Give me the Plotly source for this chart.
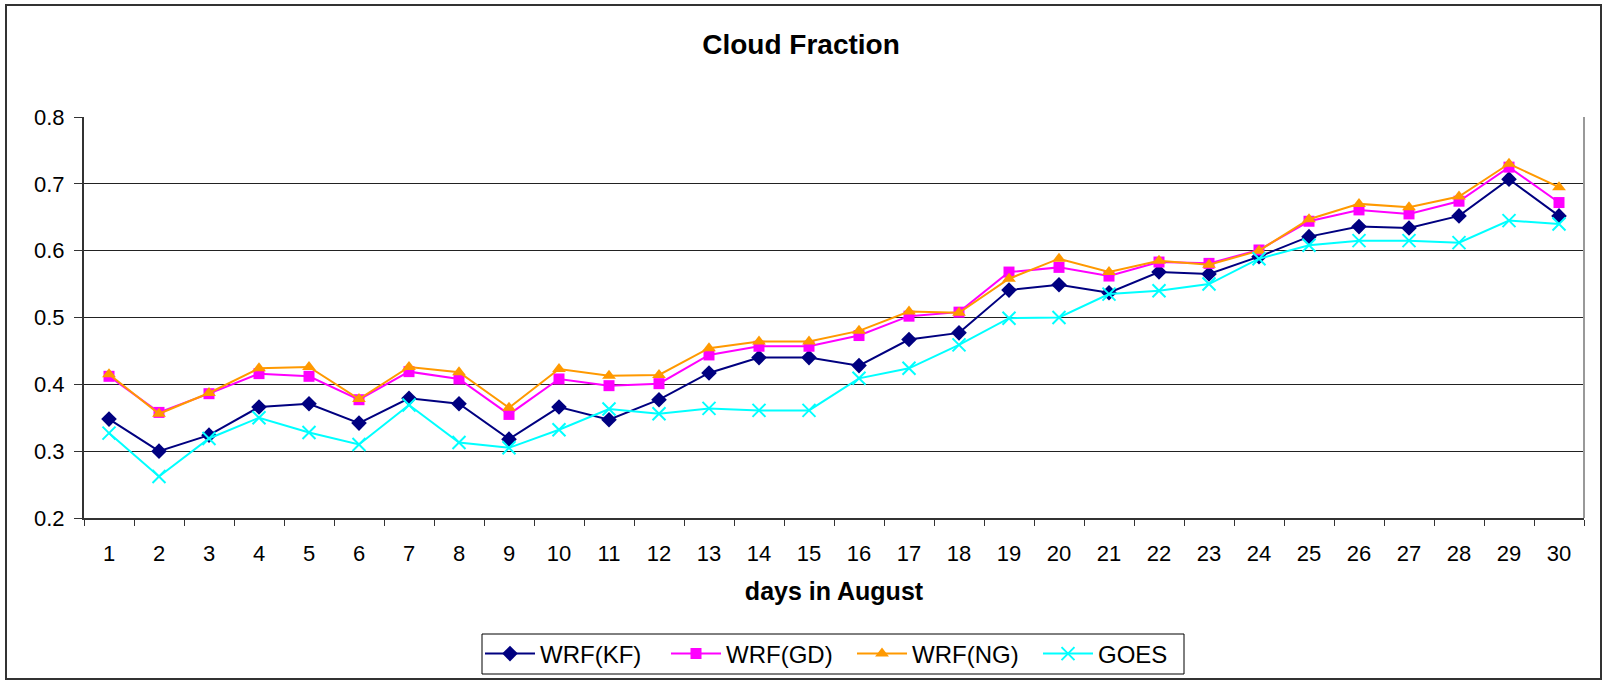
import plotly.graph_objects as go

# Daily mean cloud fraction, August
days = [str(d) for d in range(1, 31)]

wrf_kf = [0.348, 0.300, 0.324, 0.366, 0.371, 0.342, 0.379, 0.371, 0.318, 0.366,
          0.347, 0.377, 0.417, 0.440, 0.440, 0.428, 0.467, 0.477, 0.541, 0.549,
          0.537, 0.568, 0.565, 0.591, 0.621, 0.636, 0.634, 0.652, 0.707, 0.652]
wrf_gd = [0.412, 0.358, 0.386, 0.416, 0.412, 0.377, 0.419, 0.408, 0.355, 0.408,
          0.398, 0.401, 0.444, 0.457, 0.457, 0.473, 0.502, 0.508, 0.568, 0.575,
          0.562, 0.583, 0.581, 0.601, 0.644, 0.661, 0.655, 0.674, 0.725, 0.672]
wrf_ng = [0.415, 0.356, 0.387, 0.424, 0.426, 0.378, 0.426, 0.418, 0.365, 0.423,
          0.413, 0.414, 0.454, 0.464, 0.464, 0.480, 0.509, 0.507, 0.558, 0.588,
          0.568, 0.585, 0.579, 0.600, 0.647, 0.670, 0.665, 0.681, 0.730, 0.695]
goes = [0.327, 0.262, 0.319, 0.350, 0.328, 0.310, 0.369, 0.313, 0.305, 0.332,
        0.363, 0.356, 0.364, 0.361, 0.361, 0.409, 0.424, 0.459, 0.499, 0.500,
        0.535, 0.540, 0.550, 0.588, 0.608, 0.615, 0.615, 0.612, 0.645, 0.640]

series = [
    ("WRF(KF)", wrf_kf, "#000080", dict(symbol="diamond", size=12)),
    ("WRF(GD)", wrf_gd, "#FF00FF", dict(symbol="square", size=11)),
    ("WRF(NG)", wrf_ng, "#FF9900", dict(symbol="triangle-up", size=12)),
    ("GOES", goes, "#00FFFF", dict(symbol="x-thin-open", size=13,
                                   line=dict(width=2, color="#00FFFF"))),
]

FONT = "Arial, 'Liberation Sans', sans-serif"
W, H = 1602, 681
L, R, T, B = 84, 18, 117, 163

fig = go.Figure()
for name, vals, color, marker in series:
    fig.add_trace(go.Scatter(
        x=days, y=vals, name=name, mode="lines+markers",
        line=dict(color=color, width=2),
        marker=dict(color=color, **marker),
    ))

pw = W - L - R
ph = H - T - B


def px_x(x):
    return (x - L) / pw


def px_y(y):
    return (H - B - y) / ph


# outer chart border
fig.add_shape(type="rect", xref="paper", yref="paper",
              x0=px_x(6), x1=px_x(1601), y0=px_y(679), y1=px_y(5),
              line=dict(color="#333333", width=2), layer="below")

# legend frame
fig.add_shape(type="rect", xref="paper", yref="paper",
              x0=px_x(482), x1=px_x(1184), y0=px_y(674), y1=px_y(634),
              line=dict(color="black", width=1), layer="below")

fig.update_layout(
    width=W, height=H,
    margin=dict(l=L, r=R, t=T, b=B, autoexpand=False),
    paper_bgcolor="white", plot_bgcolor="white",
    font=dict(family=FONT, size=22, color="black"),
    title=dict(text="<b>Cloud Fraction</b>", x=0.5, xref="container",
               xanchor="center", y=1 - 44 / H, yref="container",
               yanchor="middle", font=dict(size=28)),
    showlegend=True,
    legend=dict(orientation="h", x=px_x(480), xanchor="left",
                y=px_y(654), yanchor="middle",
                bgcolor="rgba(0,0,0,0)", borderwidth=0,
                font=dict(size=24), itemwidth=50,
                entrywidth=121, entrywidthmode="pixels",
                tracegroupgap=0),
)

fig.update_xaxes(
    type="category", tickson="boundaries", range=[-0.5, 29.5],
    automargin=False,
    ticks="outside", ticklen=6, tickcolor="#333333", tickwidth=1,
    showline=True, linecolor="#333333", linewidth=2, mirror=False,
    showgrid=False, ticklabelstandoff=15,
    tickfont=dict(size=22),
    title=dict(text="<b>days in August</b>", font=dict(size=25), standoff=17),
)

fig.update_yaxes(
    range=[0.2, 0.8], dtick=0.1, tick0=0.2, tickformat=".1f",
    automargin=False,
    ticks="outside", ticklen=8, tickcolor="#333333", tickwidth=1,
    showline=True, linecolor="#333333", linewidth=2,
    showgrid=True, gridcolor="#222222", gridwidth=1,
    zeroline=False, ticklabelstandoff=5,
    tickfont=dict(size=22),
)

# right edge of the plot area
fig.add_shape(type="line", xref="paper", yref="paper",
              x0=1, x1=1, y0=0, y1=1,
              line=dict(color="#999999", width=2))

fig.write_html("out.html")
